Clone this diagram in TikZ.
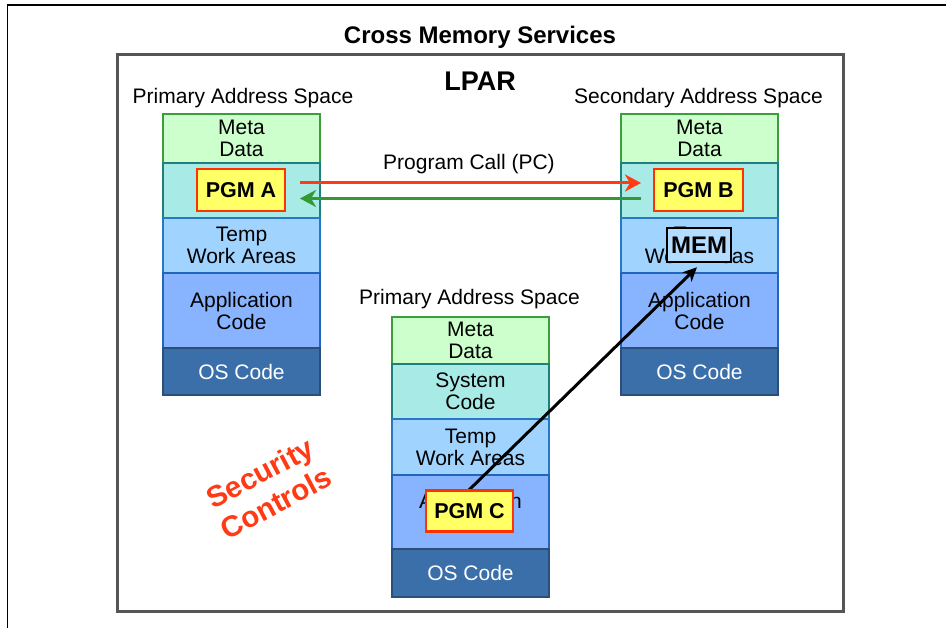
\documentclass[tikz,border=0pt]{standalone}
\usepackage{fontspec}
\setmainfont{Liberation Sans}
\usetikzlibrary{arrows.meta,calc}
\definecolor{metafill}{HTML}{CCFFCC}
\definecolor{metaline}{HTML}{3C9D3C}
\definecolor{sysfill}{HTML}{A8EAE6}
\definecolor{sysline}{HTML}{1F7F7F}
\definecolor{tempfill}{HTML}{A0D4FF}
\definecolor{templine}{HTML}{2878C8}
\definecolor{appfill}{HTML}{88B4FF}
\definecolor{appline}{HTML}{2266BB}
\definecolor{osfill}{HTML}{3B6FAA}
\definecolor{osline}{HTML}{2C4E7A}
\definecolor{pgmfill}{HTML}{FFFF66}
\definecolor{pgmline}{HTML}{FF3300}
\definecolor{memfill}{HTML}{B4DCFF}
\definecolor{callred}{HTML}{FF3A14}
\definecolor{retgreen}{HTML}{339933}
\definecolor{framegray}{HTML}{555555}
\tikzset{
  txt/.style={font=\fontsize{21}{22}\selectfont, inner sep=0pt},
  stackrow/.style={txt, align=center, minimum width=157pt, anchor=north west, line width=2pt},
  metarow/.style={stackrow, fill=metafill, draw=metaline},
  sysrow/.style={stackrow, fill=sysfill, draw=sysline},
  temprow/.style={stackrow, fill=tempfill, draw=templine},
  approw/.style={stackrow, fill=appfill, draw=appline},
  osrow/.style={stackrow, fill=osfill, draw=osline, text=white},
  pgmbox/.style={font=\bfseries\fontsize{21.5}{22}\selectfont, fill=pgmfill, draw=pgmline, line width=2.5pt, inner sep=0pt},
  membox/.style={font=\bfseries\fontsize{24}{24}\selectfont, fill=memfill, draw=black, line width=2.5pt, inner sep=0pt},
  headtxt/.style={txt, anchor=base},
  arr/.style={line width=3pt, -{Stealth[length=16pt,width=17pt,inset=5pt]}},
}
\begin{document}
\begin{tikzpicture}[x=1pt,y=-1pt]
\useasboundingbox (0,0) rectangle (946,628);
\fill[white] (0,0) rectangle (946,628);
% outer page lines
\draw[line width=1.5pt] (7.5,628) -- (7.5,5) -- (946,5);
% title
\node[headtxt, font=\bfseries\fontsize{24}{24}\selectfont] (title) at (480,44) {Cross Memory Services};
% LPAR frame
\draw[framegray, line width=3pt] (117,55) rectangle (843,611);
\node[headtxt, font=\bfseries\fontsize{27}{27}\selectfont] (lpar) at (480,91) {LPAR};
% left stack
\node[headtxt] (lhead) at (243,104) {Primary Address Space};
\node[metarow, minimum height=49pt] (lmeta) at (162,113) {Meta\\Data};
\node[sysrow, minimum height=55pt] (lsys) at (162,162) {};
\node[temprow, minimum height=55pt] (ltemp) at (162,217) {Temp\\Work Areas};
\node[approw, minimum height=75pt] (lapp) at (162,272) {Application\\Code};
\node[osrow, minimum height=47pt] (los) at (162,347) {OS Code};
% right stack
\node[headtxt] (rhead) at (698.5,104) {Secondary Address Space};
\node[metarow, minimum height=49pt] (rmeta) at (620,113) {Meta\\Data};
\node[sysrow, minimum height=55pt] (rsys) at (620,162) {};
\node[temprow, minimum height=55pt] (rtemp) at (620,217) {Temp\\Work Areas};
\node[approw, minimum height=75pt] (rapp) at (620,272) {Application\\Code};
\node[osrow, minimum height=47pt] (ros) at (620,347) {OS Code};
% middle stack
\node[headtxt] (mhead) at (469.5,305) {Primary Address Space};
\node[metarow, minimum height=47pt] (mmeta) at (391,316) {Meta\\Data};
\node[sysrow, minimum height=55pt] (msys) at (391,363) {System\\Code};
\node[temprow, minimum height=56pt] (mtemp) at (391,418) {Temp\\Work Areas};
\node[approw, minimum height=74pt] (mapp) at (391,474) {Application\\Code};
\node[osrow, minimum height=48pt] (mos) at (391,548) {OS Code};
% program call label
\node[headtxt] (pclabel) at (469,170) {Program Call (PC)};
% programs
\node[pgmbox, minimum width=88pt, minimum height=42pt] (pgma) at (241,190) {PGM A};
\node[pgmbox, minimum width=89pt, minimum height=42pt] (pgmb) at (698.5,190) {PGM B};
\node[membox, minimum width=64pt, minimum height=34pt] (mem) at (699,245) {MEM};
% arrows
\draw[arr, callred] ([xshift=-21pt,yshift=7.5pt]lsys.east) -- ([xshift=21pt,yshift=7.5pt]rsys.west);
\draw[arr, retgreen] ([xshift=21pt,yshift=-8pt]rsys.west) -- ([xshift=-21pt,yshift=-8pt]lsys.east);
\draw[line width=3pt, -{Stealth[length=14pt,width=13pt,inset=4pt]}] (469,490) -- ([xshift=-2pt,yshift=-4pt]mem.south);
\node[pgmbox, minimum width=87pt, minimum height=41pt] (pgmc) at (469.5,511) {PGM C};
% security controls
\node[rotate=28, align=center, text=callred, inner sep=0pt,
      font=\bfseries\fontsize{29.5}{34}\selectfont] (sec) at (268,488) {Security\\Controls};
\end{tikzpicture}
\end{document}
